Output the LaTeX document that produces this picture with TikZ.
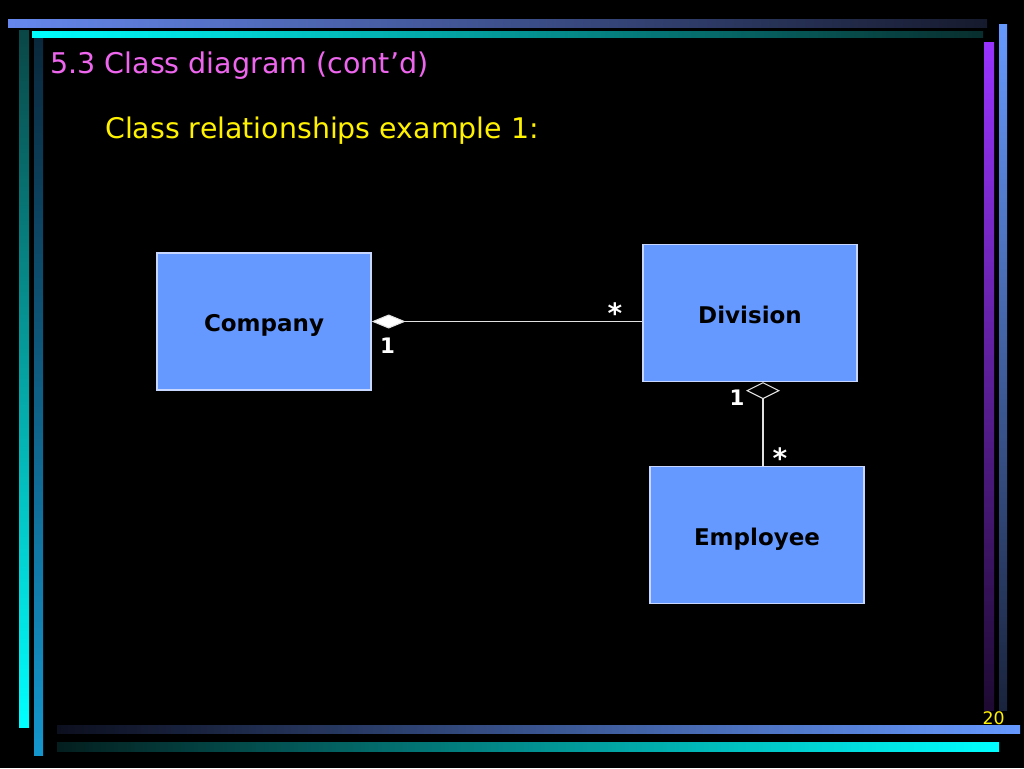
\documentclass[tikz,border=0pt]{standalone}
\usepackage{fontspec}
\setmainfont{DejaVu Sans}
\usepackage{tikz}
\usetikzlibrary{calc,positioning,arrows.meta,shapes}
\definecolor{boxblue}{RGB}{102,153,255}
\definecolor{boxline}{RGB}{200,215,255}
\definecolor{titlepink}{RGB}{238,102,238}
\definecolor{lineclr}{RGB}{225,225,225}
\begin{document}
\begin{tikzpicture}[x=0.75pt,y=-0.75pt, mult/.style={text=white, font=\fontsize{16}{18}\selectfont\bfseries, anchor=base, inner sep=0pt}, multstar/.style={mult, font=\fontsize{21}{24}\selectfont\bfseries}]
\tikzstyle{cls}=[rectangle, draw=boxline, line width=1pt, fill=boxblue, minimum width=160.5pt, minimum height=102.75pt, inner sep=0pt, text height=15.6pt, text depth=0pt, font=\fontsize{17.25}{20}\selectfont\bfseries]
\tikzstyle{assoc}=[draw=lineclr, line width=0.8pt]
\fill[black] (0,0) rectangle (1024,768);
\useasboundingbox (0,0) rectangle (1024,768);
\shade[left color={rgb,255:red,102;green,136;blue,238}, middle color={rgb,255:red,78;green,104;blue,185}, right color={rgb,255:red,22;green,26;blue,45}] (8,19) rectangle (987,27);
\shade[left color={rgb,255:red,0;green,255;blue,255}, middle color={rgb,255:red,0;green,185;blue,185}, right color={rgb,255:red,8;green,45;blue,45}] (32,31) rectangle (983,37);
\shade[top color={rgb,255:red,10;green,70;blue,70}, bottom color={rgb,255:red,0;green,255;blue,255}] (19,30) rectangle (29,727);
\shade[top color={rgb,255:red,10;green,40;blue,60}, bottom color={rgb,255:red,20;green,150;blue,205}] (34,38) rectangle (43,755);
\shade[top color={rgb,255:red,153;green,51;blue,255}, bottom color={rgb,255:red,30;green,10;blue,50}] (984,42) rectangle (994,710);
\shade[top color={rgb,255:red,102;green,153;blue,255}, bottom color={rgb,255:red,25;green,35;blue,60}] (999,24) rectangle (1007,710);
\shade[left color={rgb,255:red,12;green,15;blue,30}, middle color={rgb,255:red,80;green,110;blue,195}, right color={rgb,255:red,102;green,153;blue,255}] (57,725) rectangle (1020,733);
\shade[left color={rgb,255:red,4;green,30;blue,30}, middle color={rgb,255:red,0;green,190;blue,190}, right color={rgb,255:red,0;green,255;blue,255}] (57,742) rectangle (999,751);
\node[anchor=base west, inner sep=0pt, text=titlepink, font=\fontsize{21.4}{24}\selectfont] (title) at (50,73) {5.3 Class diagram (cont’d)};
\node[anchor=base west, inner sep=0pt, text=yellow, font=\fontsize{21.3}{24}\selectfont] (sub) at (105,138) {Class relationships example 1:};
\node[anchor=base east, inner sep=0pt, text=yellow, font=\fontsize{13}{15}\selectfont] (pg) at (1005,724) {20};
\node[cls] (company) at (264,321.5) {Company};
\node[cls] (division) at (750,313) {Division};
\node[cls] (employee) at (757,535) {Employee};
\coordinate (dv) at (763,0);
\draw[assoc, -{Diamond[length=25.5pt, width=10.5pt, fill=white]}] (company.east -| division.west) -- (company.east);
\draw[assoc, -{Diamond[open, length=12.75pt, width=25.5pt]}] (employee.north -| dv) -- (division.south -| dv);
\foreach \x/\y/\t/\s in {387.5/353/1/mult, 615/323/*/multstar, 737/405/1/mult, 780/468/*/multstar}{
\node[\s] at (\x,\y) {\t};
}
\end{tikzpicture}
\end{document}
